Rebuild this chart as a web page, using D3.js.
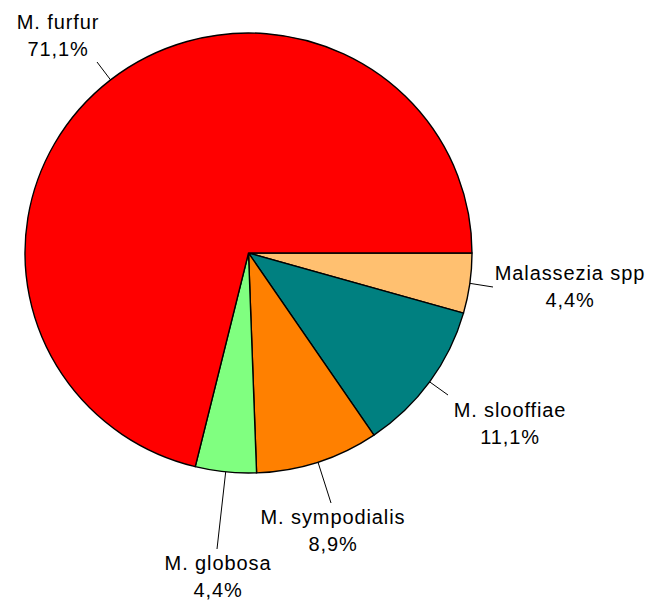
<!DOCTYPE html>
<html>
<head>
<meta charset="utf-8">
<script src="https://cdn.jsdelivr.net/npm/d3@7"></script>
<style>
  body { margin: 0; background: #fff; }
  text { font-family: "Liberation Sans", Arial, sans-serif; font-size: 20px; fill: #000; letter-spacing: 0.9px; }
</style>
</head>
<body>
<div id="chart"></div>
<script>
// data
const species = ["Malassezia spp", "M. slooffiae", "M. sympodialis", "M. globosa", "M. furfur"];
const percents = [4.4, 11.1, 8.9, 4.4, 71.1];
const colors = ["#FFC070", "#008080", "#FF8000", "#80FF80", "#FF0000"];

// label placement (leader end point, text centre x, first baseline y)
const labelPos = [
  { lx: 493, ly: 287, tx: 570, ty: 280 },
  { lx: 448, ly: 395, tx: 510, ty: 417 },
  { lx: 331, ly: 503, tx: 333, ty: 524 },
  { lx: 217, ly: 549, tx: 218, ty: 570 },
  { lx: 97, ly: 62, tx: 58, ty: 29 }
];

const width = 650, height = 601;
const cx = 248.5, cy = 253, rx = 223.5, ry = 220;

const svg = d3.select("#chart")
  .append("svg")
  .attr("width", width)
  .attr("height", height);

const data = species.map((s, i) => ({ name: s, value: percents[i], color: colors[i], pos: labelPos[i] }));

const pie = d3.pie()
  .value(d => d.value)
  .sort(null)
  .startAngle(Math.PI / 2)
  .endAngle(Math.PI / 2 + 2 * Math.PI);

const arcs = pie(data);

const arc = d3.arc().innerRadius(0).outerRadius(rx);

// pie is a little squashed vertically, like the original
svg.append("g")
  .attr("transform", `translate(${cx},${cy}) scale(1,${ry / rx})`)
  .selectAll("path")
  .data(arcs)
  .join("path")
    .attr("d", arc)
    .attr("fill", d => d.data.color)
    .attr("stroke", "#000")
    .attr("stroke-width", 1.4)
    .attr("vector-effect", "non-scaling-stroke")
    .attr("stroke-linejoin", "round");

// leader lines
const fmt = v => d3.format(".1f")(v).replace(".", ",") + "%";

svg.selectAll("line.leader")
  .data(arcs)
  .join("line")
    .attr("class", "leader")
    .attr("x1", d => {
      const a = (d.startAngle + d.endAngle) / 2;
      return cx + rx * Math.sin(a);
    })
    .attr("y1", d => {
      const a = (d.startAngle + d.endAngle) / 2;
      return cy - ry * Math.cos(a);
    })
    .attr("x2", d => d.data.pos.lx)
    .attr("y2", d => d.data.pos.ly)
    .attr("stroke", "#000")
    .attr("stroke-width", 1);

// labels
const labels = svg.selectAll("text.label")
  .data(arcs)
  .join("text")
    .attr("class", "label")
    .attr("text-anchor", "middle");

labels.append("tspan")
  .attr("x", d => d.data.pos.tx)
  .attr("y", d => d.data.pos.ty)
  .text(d => d.data.name);

labels.append("tspan")
  .attr("x", d => d.data.pos.tx)
  .attr("y", d => d.data.pos.ty + 27)
  .text(d => fmt(d.data.value));
</script>
</body>
</html>
